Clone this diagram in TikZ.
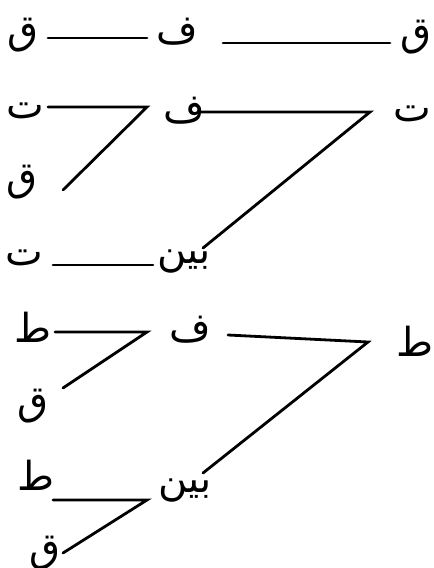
\documentclass[tikz,border=0pt]{standalone}
\usepackage{fontspec}
\newfontfamily\arabicfont[Script=Arabic]{DejaVu Sans}
\TeXXeTstate=1

\tikzset{
    harf/.style={
      font=\arabicfont\fontsize{20}{24}\selectfont,
      inner sep=0pt
    },
    shajara/.style={
      draw=black,
      line width=1.4pt,
      line cap=round
    }
  }

\begin{document}
\begin{tikzpicture}[x=0.5pt,y=-0.5pt]
      \useasboundingbox (0,0) rectangle (434,568);

      % الحروف
      \node[harf] (q1r) at (416,37) {\beginR ق\endR};
      \node[harf] (f1) at (177,32) {\beginR ف\endR};
      \node[harf] (q1l) at (23,35) {\beginR ق\endR};

      \node[harf] (t2r) at (412,114) {\beginR ت\endR};
      \node[harf] (f2) at (184,111) {\beginR ف\endR};
      \node[harf] (t2l) at (25,111) {\beginR ت\endR};
      \node[harf] (q2l) at (22,182) {\beginR ق\endR};
      \node[harf] (bayn1) at (184,262) {\beginR بين\endR};
      \node[harf] (t3l) at (24,258) {\beginR ت\endR};

      \node[harf] (t4r) at (415,341) {\beginR ط\endR};
      \node[harf] (f4) at (190,330) {\beginR ف\endR};
      \node[harf] (t4l) at (33,327) {\beginR ط\endR};
      \node[harf] (q4l) at (33,406) {\beginR ق\endR};
      \node[harf] (bayn2) at (185,491) {\beginR بين\endR};
      \node[harf] (t5l) at (36,475) {\beginR ط\endR};
      \node[harf] (q5l) at (45,553) {\beginR ق\endR};

      % الزوايا
      \coordinate (c2r) at (370,112);
      \coordinate (c2l) at (147,107);
      \coordinate (c4r) at (368,342);
      \coordinate (c4l) at (147,332);
      \coordinate (c5) at (147,500);

      % الخطوط
      \draw[shajara] ([shift={(-26,6)}]q1r.center) -- ([shift={(46,11)}]f1.center);
      \draw[shajara] ([shift={(-30,6)}]f1.center) -- ([shift={(25,3)}]q1l.center);

      \draw[shajara] ([shift={(15,1)}]f2.center) -- (c2r) -- ([shift={(19,-14)}]bayn1.center);
      \draw[shajara] ([shift={(23,-4)}]t2l.center) -- (c2l) -- ([shift={(41,8)}]q2l.center);
      \draw[shajara] ([shift={(-31,3)}]bayn1.center) -- ([shift={(29,7)}]t3l.center);

      \draw[shajara] ([shift={(38,5)}]f4.center) -- (c4r) -- ([shift={(18,-18)}]bayn2.center);
      \draw[shajara] ([shift={(22,5)}]t4l.center) -- (c4l) -- ([shift={(30,-18)}]q4l.center);
      \draw[shajara] ([shift={(17,25)}]t5l.center) -- (c5) -- ([shift={(18,0)}]q5l.center);
    \end{tikzpicture}
\end{document}
